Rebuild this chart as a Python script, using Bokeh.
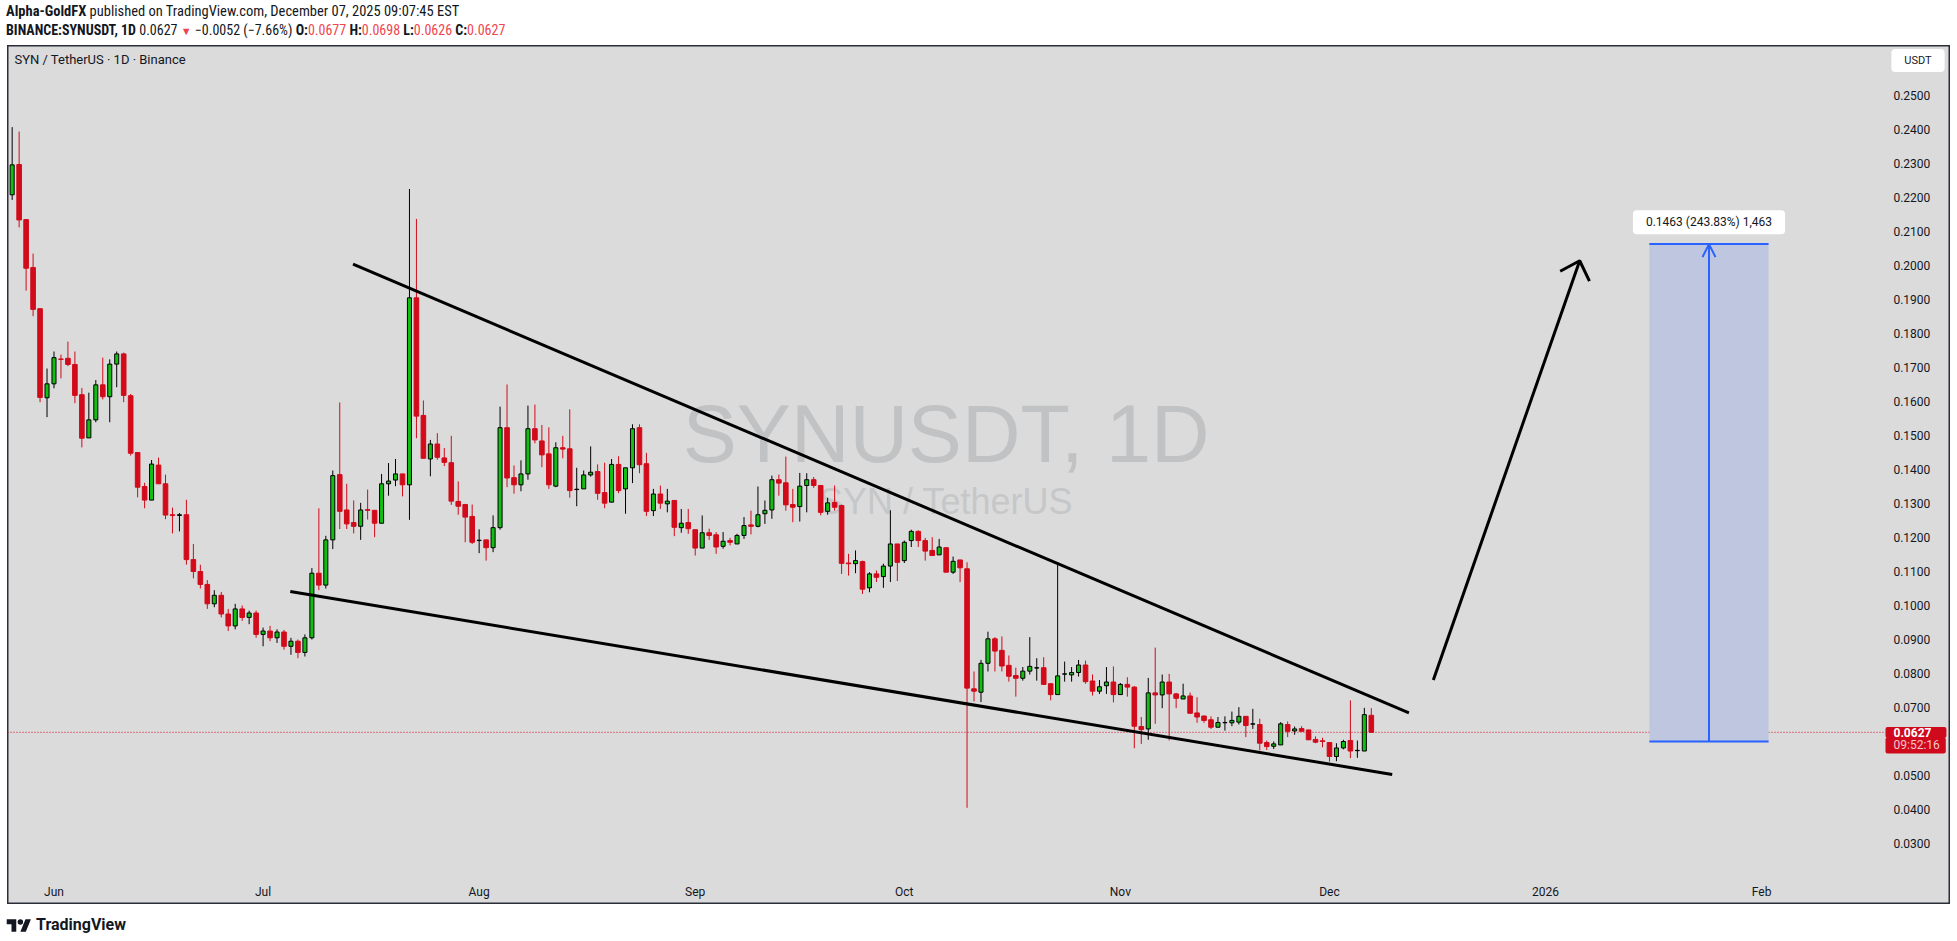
from bokeh.plotting import figure
from bokeh.models import (ColumnDataSource, Range1d, FixedTicker, Label, Div,
                          Arrow, OpenHead, NumeralTickFormatter)
from bokeh.layouts import column
from bokeh.embed import file_html
from bokeh.resources import INLINE

# ---------------- data (day offsets from 2025-06-01) ----------------
day = list(range(-6, 190))

open_ = [
    .2208, .2297, .2135, .1994, .1873, .1611, .1652, .1725, .1727, .1709,
    .1620, .1493, .1546, .1649, .1614, .1710, .1740, .1617, .1450, .1350,
    .1310, .1413, .1358, .1267, .1265, .1267, .1135, .1100, .1062, .1005,
    .1030, .0975, .0940, .0990, .0965, .0978, .0915, .0925, .0905, .0922,
    .0880, .0895, .0862, .0905, .1095, .1060, .1193, .1385, .1281, .1244,
    .1233, .1282, .1280, .1242, .1358, .1369, .1387, .1355, .1905, .1559,
    .1431, .1475, .1434, .1420, .1306, .1297, .1262, .1191, .1193, .1170,
    .1229, .1523, .1376, .1355, .1387, .1520, .1484, .1446, .1351, .1464,
    .1461, .1341, .1343, .1384, .1394, .1332, .1304, .1415, .1343, .1405,
    .1523, .1417, .1279, .1328, .1299, .1309, .1229, .1244, .1223, .1169,
    .1214, .1208, .1174, .1191, .1181, .1206, .1237, .1233, .1270, .1281,
    .1370, .1361, .1297, .1291, .1353, .1370, .1353, .1277, .1303, .1294,
    .1125, .1123, .1129, .1052, .1093, .1085, .1116, .1181, .1132, .1191,
    .1218, .1191, .1162, .1149, .1170, .1098, .1134, .1108, .0755, .0745,
    .0830, .0902, .0868, .0824, .0794, .0786, .0807, .0816, .0817, .0770,
    .0738, .0798, .0796, .0803, .0825, .0778, .0748, .0764, .0775, .0738,
    .0768, .0760, .0644, .0637, .0743, .0737, .0775, .0740, .0725, .0734,
    .0684, .0675, .0664, .0642, .0655, .0655, .0657, .0674, .0651, .0650,
    .0597, .0586, .0590, .0650, .0631, .0638, .0634, .0606, .0602, .0597,
    .0556, .0581, .0603, .0573, .0572, .0677,
]
high = [
    .2407, .2394, .2135, .2035, .1873, .1697, .1747, .1738, .1776, .1747,
    .1640, .1626, .1663, .1729, .1724, .1747, .1744, .1622, .1450, .1361,
    .1428, .1435, .1385, .1288, .1272, .1311, .1181, .1120, .1075, .1045,
    .1040, .0990, .1005, .1000, .0985, .0985, .0935, .0940, .0930, .0928,
    .0905, .0900, .0915, .1110, .1286, .1205, .1397, .1597, .1358, .1309,
    .1302, .1341, .1280, .1387, .1419, .1431, .1387, .2225, .2137, .1603,
    .1487, .1507, .1463, .1499, .1365, .1299, .1297, .1224, .1193, .1265,
    .1585, .1650, .1412, .1427, .1588, .1591, .1531, .1524, .1480, .1499,
    .1577, .1405, .1397, .1468, .1415, .1420, .1431, .1439, .1405, .1533,
    .1533, .1449, .1343, .1353, .1343, .1309, .1284, .1284, .1223, .1265,
    .1226, .1216, .1216, .1199, .1211, .1260, .1279, .1350, .1309, .1382,
    .1385, .1438, .1343, .1390, .1389, .1378, .1353, .1317, .1353, .1297,
    .1152, .1162, .1132, .1098, .1103, .1123, .1280, .1181, .1191, .1223,
    .1221, .1199, .1201, .1196, .1172, .1144, .1134, .1127, .0806, .0840,
    .0923, .0907, .0909, .0853, .0817, .0819, .0907, .0845, .0848, .0770,
    .1123, .0835, .0819, .0840, .0838, .0797, .0781, .0819, .0821, .0772,
    .0789, .0763, .0672, .0787, .0876, .0797, .0799, .0743, .0770, .0744,
    .0730, .0676, .0674, .0672, .0674, .0688, .0701, .0674, .0696, .0667,
    .0603, .0600, .0657, .0659, .0644, .0645, .0634, .0615, .0611, .0597,
    .0595, .0605, .0721, .0603, .0699, .0698,
]
low = [
    .2193, .2112, .1926, .1851, .1598, .1554, .1639, .1668, .1704, .1595,
    .1465, .1493, .1539, .1606, .1539, .1642, .1598, .1441, .1318, .1286,
    .1310, .1358, .1254, .1212, .1218, .1120, .1080, .1050, .0990, .0995,
    .0965, .0925, .0930, .0955, .0945, .0905, .0880, .0895, .0890, .0870,
    .0855, .0845, .0850, .0900, .1045, .1050, .1166, .1225, .1225, .1212,
    .1193, .1253, .1201, .1242, .1323, .1351, .1321, .1252, .1492, .1433,
    .1380, .1429, .1410, .1296, .1267, .1186, .1181, .1154, .1132, .1157,
    .1223, .1348, .1329, .1336, .1370, .1477, .1407, .1343, .1348, .1433,
    .1317, .1292, .1343, .1379, .1311, .1286, .1304, .1330, .1270, .1360,
    .1389, .1263, .1263, .1284, .1274, .1204, .1214, .1211, .1147, .1169,
    .1193, .1152, .1167, .1177, .1181, .1196, .1209, .1230, .1240, .1255,
    .1323, .1279, .1245, .1247, .1274, .1346, .1265, .1267, .1279, .1093,
    .1088, .1095, .1034, .1039, .1069, .1052, .1069, .1072, .1125, .1172,
    .1172, .1132, .1147, .1149, .1098, .1093, .1069, .0405, .0718, .0716,
    .0806, .0806, .0806, .0776, .0732, .0779, .0797, .0779, .0768, .0721,
    .0738, .0776, .0776, .0791, .0770, .0735, .0740, .0740, .0715, .0738,
    .0732, .0580, .0593, .0605, .0652, .0698, .0603, .0698, .0725, .0683,
    .0655, .0655, .0637, .0642, .0632, .0645, .0650, .0613, .0637, .0574,
    .0575, .0578, .0590, .0613, .0620, .0630, .0605, .0595, .0583, .0541,
    .0542, .0577, .0551, .0552, .0572, .0626,
]
close = [
    .2296, .2134, .1992, .1871, .1612, .1652, .1729, .1724, .1709, .1618,
    .1492, .1546, .1649, .1614, .1710, .1740, .1618, .1448, .1348, .1310,
    .1416, .1358, .1266, .1265, .1267, .1135, .1100, .1062, .1005, .1030,
    .0975, .0940, .0990, .0965, .0978, .0915, .0925, .0905, .0922, .0880,
    .0895, .0862, .0905, .1095, .1060, .1193, .1382, .1277, .1240, .1233,
    .1281, .1280, .1242, .1358, .1366, .1387, .1355, .1905, .1557, .1433,
    .1475, .1436, .1421, .1307, .1292, .1260, .1186, .1192, .1170, .1229,
    .1523, .1375, .1355, .1387, .1520, .1487, .1443, .1355, .1464, .1460,
    .1338, .1342, .1384, .1392, .1330, .1301, .1415, .1338, .1405, .1520,
    .1414, .1277, .1328, .1301, .1307, .1230, .1242, .1226, .1169, .1214,
    .1206, .1172, .1189, .1186, .1206, .1235, .1233, .1267, .1280, .1370,
    .1360, .1296, .1289, .1351, .1370, .1353, .1274, .1302, .1289, .1124,
    .1123, .1132, .1048, .1093, .1083, .1116, .1181, .1127, .1186, .1218,
    .1191, .1160, .1147, .1172, .1098, .1130, .1111, .0757, .0748, .0830,
    .0902, .0866, .0822, .0792, .0786, .0807, .0821, .0817, .0768, .0738,
    .0793, .0799, .0803, .0825, .0776, .0748, .0761, .0775, .0738, .0768,
    .0760, .0645, .0635, .0743, .0737, .0775, .0740, .0727, .0734, .0683,
    .0672, .0662, .0642, .0656, .0656, .0662, .0674, .0647, .0652, .0595,
    .0585, .0593, .0652, .0630, .0637, .0630, .0605, .0598, .0600, .0556,
    .0581, .0600, .0572, .0574, .0679, .0627,
]

month_ticks = [0, 30, 61, 92, 122, 153, 183, 214, 245]
month_labels = ["Jun", "Jul", "Aug", "Sep", "Oct", "Nov", "Dec", "2026", "Feb"]
price_ticks = [0.03, 0.04, 0.05, 0.07, 0.08, 0.09, 0.10, 0.11, 0.12, 0.13, 0.14,
               0.15, 0.16, 0.17, 0.18, 0.19, 0.20, 0.21, 0.22, 0.23, 0.24, 0.25]

# drawings (data coordinates)
upper_line_x = [42.9, 194.4]
upper_line_y = [0.2004, 0.0684]
lower_line_x = [33.9, 192.0]
lower_line_y = [0.1041, 0.0503]
arrow_x = [197.9, 218.9]
arrow_y = [0.0781, 0.2014]
arrow_head_x = [216.1, 218.9, 220.3]
arrow_head_y = [0.1983, 0.2014, 0.1954]
target_x = [228.9, 246.0]
target_y = [0.0600, 0.2063]
target_text = "0.1463 (243.83%) 1,463"
last_price = 0.0627

# layout of the chart pane (data coordinates of the pane edges)
X_MIN, X_MAX = -6.67, 272.1          # full pane width
Y_MIN, Y_MAX = 0.01206, 0.26471      # full pane height
PRICE_SCALE_X = 263.2                # boundary of the price scale column
TIME_SCALE_Y = 0.02                  # boundary of the time scale row
PRICE_LINE_END = 262.8

BG = "#dbdbdb"
RED = "#d20a1a"
GREEN = "#12be12"
TXT = "#131722"

# ---------------- figure ----------------
p = figure(width=1943, height=859, x_range=Range1d(X_MIN, X_MAX),
           y_range=Range1d(Y_MIN, Y_MAX), output_backend="svg",
           toolbar_location=None, y_axis_location="right",
           background_fill_color=BG, border_fill_color=BG,
           min_border_left=0, min_border_right=0, min_border_top=0,
           min_border_bottom=0, margin=(0, 0, 0, 7))
p.grid.visible = False
p.outline_line_color = "#2a2e39"
p.outline_line_width = 2

yax = p.yaxis[0]
yax.fixed_location = PRICE_SCALE_X
yax.ticker = FixedTicker(ticks=price_ticks)
yax.formatter = NumeralTickFormatter(format="0.0000")
xax = p.xaxis[0]
xax.fixed_location = TIME_SCALE_Y
xax.ticker = FixedTicker(ticks=month_ticks)
xax.major_label_overrides = {t: l for t, l in zip(month_ticks, month_labels)}
for ax in (xax, yax):
    ax.axis_line_color = None
    ax.major_tick_line_color = None
    ax.minor_tick_line_color = None
    ax.major_tick_out = 0
    ax.major_tick_in = 0
    ax.major_label_text_font = "Roboto"
    ax.major_label_text_font_size = "12px"
    ax.major_label_text_color = TXT
yax.major_label_standoff = 5
xax.major_label_standoff = 7

# watermark
p.add_layout(Label(x=128.0, y=0.1505, text="SYNUSDT, 1D", text_align="center",
                   text_baseline="middle", text_font="Liberation Sans",
                   text_font_size="81px", text_color="#c1c2c4", level="underlay"))
p.add_layout(Label(x=128.0, y=0.1306, text="SYN / TetherUS", text_align="center",
                   text_baseline="middle", text_font="Liberation Sans",
                   text_font_size="36px", text_color="#c6c7c9", level="underlay"))

# candles
up = [i for i in range(len(day)) if close[i] >= open_[i]]
dn = [i for i in range(len(day)) if close[i] < open_[i]]

def src(idx):
    return ColumnDataSource(dict(
        x=[day[i] for i in idx], h=[high[i] for i in idx], l=[low[i] for i in idx],
        top=[max(open_[i], close[i]) for i in idx],
        bot=[min(open_[i], close[i]) for i in idx]))

su, sd = src(up), src(dn)
p.segment(x0="x", y0="h", x1="x", y1="l", source=sd, line_color=RED, line_width=1)
p.vbar(x="x", width=0.66, top="top", bottom="bot", source=sd,
       fill_color=RED, line_color=RED, line_width=1)
p.segment(x0="x", y0="h", x1="x", y1="l", source=su, line_color="black", line_width=1)
p.vbar(x="x", width=0.58, top="top", bottom="bot", source=su,
       fill_color=GREEN, line_color="black", line_width=1)

# last price line
p.segment(x0=[X_MIN], x1=[PRICE_LINE_END], y0=[last_price], y1=[last_price],
          line_color=RED, line_dash="1 2", line_width=1)

# trend lines
p.line(upper_line_x, upper_line_y, line_color="black", line_width=3)
p.line(lower_line_x, lower_line_y, line_color="black", line_width=3)
p.line(arrow_x, arrow_y, line_color="black", line_width=3)
p.line(arrow_head_x, arrow_head_y, line_color="black", line_width=3)

# target box
mid_x = (target_x[0] + target_x[1]) / 2
p.quad(left=target_x[0], right=target_x[1], bottom=target_y[0], top=target_y[1],
       fill_color="#bfc7e0", line_color=None)
p.segment(x0=[target_x[0]] * 2, x1=[target_x[1]] * 2, y0=target_y, y1=target_y,
          line_color="#2962ff", line_width=2)
p.add_layout(Arrow(x_start=mid_x, y_start=target_y[0], x_end=mid_x, y_end=target_y[1],
                   line_color="#2962ff", line_width=2,
                   end=OpenHead(size=13, line_color="#2962ff", line_width=2)))
p.add_layout(Label(x=mid_x, y=0.2127, text=target_text, text_align="center",
                   text_baseline="middle", text_font="Roboto", text_font_size="12px",
                   text_color=TXT, background_fill_color="white", border_radius=4,
                   padding=dict(left=13, right=13, top=5, bottom=5)))

# pane legend & price-scale labels (screen units, from pane bottom-left)
p.add_layout(Label(x=7, y=845, x_units="screen", y_units="screen",
                   text="SYN / TetherUS · 1D · Binance", text_baseline="middle",
                   text_font="Roboto", text_font_size="13px", text_color=TXT))
p.add_layout(Label(x=1910.5, y=844, x_units="screen", y_units="screen", text="USDT",
                   text_align="center", text_baseline="middle", text_font="Roboto",
                   text_font_size="11px", text_color=TXT, background_fill_color="white",
                   border_radius=4, padding=dict(left=13, right=13, top=5, bottom=5)))
p.add_layout(Label(x=1878, y=172, x_units="screen", y_units="screen", text="0.0627",
                   text_baseline="middle", text_font="Roboto", text_font_size="12px",
                   text_font_style="bold", text_color="white",
                   background_fill_color="#cf0a1d", border_radius=2,
                   padding=dict(left=8, right=15, top=1, bottom=1)))
p.add_layout(Label(x=1878, y=159, x_units="screen", y_units="screen", text="09:52:16",
                   text_baseline="middle", text_font="Roboto", text_font_size="12px",
                   text_color="#f6c6cb", background_fill_color="#cf0a1d", border_radius=2,
                   padding=dict(left=8, right=6, top=0, bottom=2)))

# ---------------- header / footer ----------------
R = "#f0464f"
FONT = "'Liberation Sans Narrow','Roboto Condensed','Arial Narrow',Roboto,sans-serif"
header = Div(width=1950, height=45, margin=(0, 0, 0, 0), text=(
    f"<div style=\"padding-top:2px;padding-left:6px;white-space:nowrap;font-family:{FONT};"
    f"line-height:19px;color:{TXT}\">"
    "<div style='font-size:14.5px'><b>Alpha-GoldFX</b> published on TradingView.com, "
    "December 07, 2025 09:07:45 EST</div>"
    "<div style='font-size:14px'><b>BINANCE:SYNUSDT, 1D</b> 0.0627 "
    f"<span style='color:{R};font-size:11px'>&#9660;</span> &minus;0.0052 (&minus;7.66%) "
    f"<b>O:</b><span style='color:{R}'>0.0677</span> "
    f"<b>H:</b><span style='color:{R}'>0.0698</span> "
    f"<b>L:</b><span style='color:{R}'>0.0626</span> "
    f"<b>C:</b><span style='color:{R}'>0.0627</span></div></div>"))

footer = Div(width=1950, height=36, margin=(0, 0, 0, 0), text=(
    "<div style=\"display:flex;align-items:center;padding-top:13px;padding-left:6px;"
    f"font-family:Roboto,sans-serif;font-weight:700;font-size:16px;line-height:16px;color:{TXT}\">"
    "<svg width='26' height='15' viewBox='0 0 36 22'>"
    f"<path d='M14 20H7V9H0V2h14v18z' fill='{TXT}'/>"
    f"<path d='M28 20h-8l7.5-18h8L28 20z' fill='{TXT}'/>"
    f"<circle cx='20' cy='6' r='4' fill='{TXT}'/></svg>"
    "<span style='margin-left:4px'>TradingView</span></div>"))

layout = column(header, p, footer, spacing=0)
open("out.html", "w").write(file_html(layout, INLINE))
